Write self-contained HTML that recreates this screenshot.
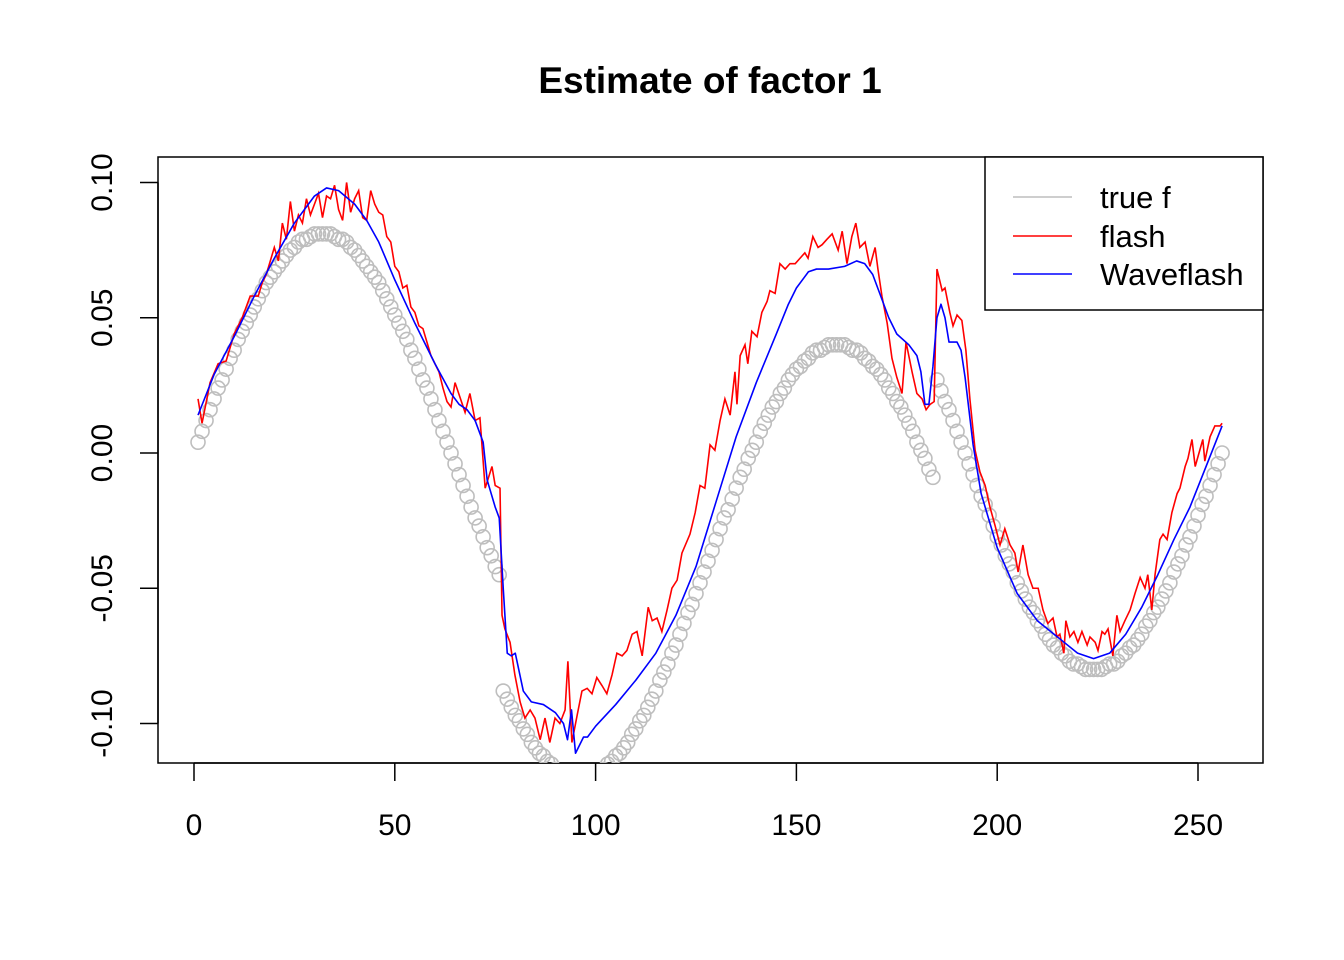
<!DOCTYPE html>
<html><head><meta charset="utf-8"><style>
html,body{margin:0;padding:0;background:#fff;}
svg{display:block;font-family:"Liberation Sans",Arial,sans-serif;}
</style></head><body>
<svg id="chart" width="1344" height="960" viewBox="0 0 1344 960">
<defs><clipPath id="plotclip"><rect x="158" y="157" width="1105" height="606"/></clipPath></defs>
<text x="710" y="93" text-anchor="middle" font-size="37" font-weight="bold">Estimate of factor 1</text>
<rect x="158" y="157" width="1105" height="606" fill="none" stroke="#000" stroke-width="1.5"/>
<g id="xaxis"></g>
<g id="yaxis"></g>
<g id="series" clip-path="url(#plotclip)"></g>
<g>
<rect x="985" y="157" width="278" height="153" fill="#fff" stroke="#000" stroke-width="1.5"/>
<line x1="1013" y1="197" x2="1072" y2="197" stroke="#bebebe" stroke-width="1.5"/>
<text x="1100" y="208" font-size="31">true f</text>
<line x1="1013" y1="236" x2="1072" y2="236" stroke="#ff0000" stroke-width="1.5"/>
<text x="1100" y="247" font-size="31">flash</text>
<line x1="1013" y1="274" x2="1072" y2="274" stroke="#0000ff" stroke-width="1.5"/>
<text x="1100" y="285" font-size="31">Waveflash</text>
</g>
</svg>
<script>
const xTicks=[0,50,100,150,200,250];
const yTicks=[0.10,0.05,0.00,-0.05,-0.10];
const yTickLabels=["0.10","0.05","0.00","-0.05","-0.10"];
const trueF=[.004,.008,.012,.016,.020,.024,.027,.031,.035,.038,.042,.045,.048,.051,.054,.057,.060,.063,.065,.067,.069,.071,.073,.075,.076,.078,.079,.079,.080,.081,.081,.081,
.081,.081,.080,.079,.079,.078,.076,.075,.073,.071,.069,.067,.065,.063,.060,.057,.054,.051,.048,.045,.042,.038,.035,.031,.027,.024,.020,.016,.012,.008,.004,0,
-.004,-.008,-.012,-.016,-.020,-.024,-.027,-.031,-.035,-.038,-.042,-.045,
-.088,-.091,-.094,-.097,-.099,-.102,-.104,-.107,-.109,-.111,-.112,-.114,-.115,-.117,-.118,-.118,-.119,-.120,-.120,-.120,
-.120,-.120,-.119,-.118,-.118,-.117,-.115,-.114,-.112,-.111,-.109,-.107,-.104,-.102,-.099,-.097,-.094,-.091,-.088,
-.084,-.081,-.078,-.074,-.071,-.067,-.063,-.059,-.056,-.052,-.048,-.044,-.040,
-.036,-.032,-.028,-.024,-.021,-.017,-.013,-.009,-.006,-.002,.001,.004,.008,.011,.014,.017,.019,.022,.024,.027,.029,.031,.032,.034,.035,.037,.038,.038,.039,.040,.040,.040,
.040,.040,.039,.038,.038,.037,.035,.034,.032,.031,.029,.027,.024,.022,.019,.017,.014,.011,.008,.004,.001,-.002,-.006,-.009,
.027,.023,.019,.016,.012,.008,.004,0,
-.004,-.008,-.012,-.016,-.019,-.023,-.027,-.031,-.034,-.038,-.041,-.044,-.048,-.051,-.054,-.057,-.059,-.062,-.064,-.067,-.069,-.071,-.072,-.074,-.075,-.077,-.078,-.078,-.079,-.080,-.080,-.080,
-.080,-.080,-.079,-.078,-.078,-.077,-.075,-.074,-.072,-.071,-.069,-.067,-.064,-.062,-.059,-.057,-.054,-.051,-.048,-.044,-.041,-.038,-.034,-.031,-.027,-.023,-.019,-.016,-.012,-.008,-.004,0];
const flashX=[1,2,4,6,8,10,12,14,16,17,18,20,21,22,23,24,25,26,27,28,29,30,31,32,33,34,35,36,37,38,39,40,41,42,43,44,45,46,47,48,49,50,51,52,53,54,55,56,57,58,59,60,61,62,63,64,65,67.5,68.7,70,71.2,72.5,74.2,75,76.2,76.7,77.4,78.7,79.9,81.2,82.4,83.7,84.9,86.2,87.4,88.6,89.9,91.1,92.4,93.1,94.1,95.4,96.6,97.9,99.1,100.3,101.6,102.8,104.1,105.3,106.6,107.8,109.1,110.3,111.6,113.1,114.1,115.3,116.5,117.8,119,120.3,121.5,123.5,124.8,126,127.2,128.5,129.7,131,132.2,133.5,134.7,135.2,136,137.2,137.9,138.9,140.2,141.4,142.7,143.4,144.7,145.9,147.2,148.4,149.7,150.9,152.1,152.9,154.1,155.4,156.4,157.6,158.9,160.4,161.4,162.6,163.8,164.8,165.8,167.1,168.3,169.6,170.3,171.3,172.6,173.8,175,176.3,177.3,178.8,180,181.3,182.3,183.3,184.3,185,186.3,187,188.2,189,190,191.2,192.2,193.2,194.5,195.7,197,198.2,199.5,200.7,201.9,203.2,204.4,205.2,206.4,207.7,208.9,210.2,211.4,212.6,213.9,214.9,215.6,216.6,217.1,218.1,219.1,220.1,221.1,222.4,223.1,224.4,225.1,226.1,226.8,227.6,228.8,229.8,230.6,231.8,233.1,234.3,235.6,236.8,237.5,238.5,239.3,240.5,241.3,242.3,243.5,244.8,245.5,246.8,247.5,248.5,249.3,251.2,251.7,253,254.2,255.5,256];
const flashY=[.020,.011,.026,.033,.034,.044,.050,.058,.058,.063,.066,.076,.071,.085,.079,.093,.082,.088,.085,.094,.088,.092,.096,.087,.095,.094,.099,.090,.086,.100,.089,.094,.097,.087,.086,.097,.092,.089,.088,.080,.078,.069,.067,.061,.062,.054,.052,.047,.046,.041,.036,.033,.030,.024,.019,.017,.026,.015,.022,.012,.013,-.013,-.005,-.012,-.013,-.060,-.065,-.070,-.082,-.092,-.098,-.095,-.098,-.106,-.098,-.107,-.098,-.100,-.095,-.077,-.107,-.097,-.088,-.087,-.089,-.083,-.086,-.089,-.082,-.074,-.075,-.073,-.067,-.066,-.075,-.057,-.062,-.061,-.066,-.058,-.050,-.047,-.037,-.030,-.022,-.012,-.013,.003,.001,.012,.020,.014,.030,.018,.036,.040,.033,.045,.043,.052,.056,.060,.059,.070,.068,.070,.070,.072,.074,.072,.080,.076,.077,.079,.081,.075,.082,.070,.080,.085,.076,.078,.069,.076,.068,.058,.048,.035,.028,.022,.041,.030,.022,.020,.016,.018,.019,.068,.060,.061,.052,.047,.051,.049,.038,.020,.001,-.007,-.012,-.020,-.027,-.034,-.028,-.034,-.037,-.044,-.034,-.045,-.050,-.050,-.058,-.063,-.061,-.068,-.067,-.074,-.062,-.068,-.066,-.070,-.066,-.071,-.068,-.070,-.073,-.066,-.067,-.065,-.075,-.060,-.066,-.062,-.058,-.052,-.046,-.050,-.045,-.058,-.045,-.032,-.030,-.032,-.022,-.015,-.013,-.005,-.002,.005,-.005,.005,-.003,.006,.010,.010,.011];
const waveX=[1,5,10,15,20,25,30,33,36,40,43,46,50,55,60,64,66,68,70,72,73,75,76,77,78,79,80,82,84,87,90,92,93,94,95,97,98,100,105,110,115,120,125,130,135,140,145,148,150,152,153,155,158,162,165,167,169,171,173,175,178,180,181,182,183,184,185,186,187,188,190,191,192,194,196,200,205,210,215,220,224,228,232,236,240,244,248,252,256];
const waveY=[.014,.029,.043,.058,.072,.085,.095,.098,.097,.092,.086,.078,.064,.048,.033,.022,.018,.016,.012,.004,-.010,-.020,-.024,-.050,-.074,-.075,-.074,-.088,-.092,-.093,-.096,-.100,-.106,-.095,-.111,-.105,-.105,-.101,-.093,-.084,-.074,-.060,-.042,-.018,.006,.026,.044,.055,.061,.065,.067,.068,.068,.069,.071,.070,.066,.058,.050,.044,.040,.036,.030,.018,.018,.032,.050,.055,.050,.041,.041,.038,.028,.003,-.015,-.035,-.052,-.062,-.068,-.074,-.076,-.074,-.067,-.057,-.045,-.032,-.020,-.005,.010];

const NS="http://www.w3.org/2000/svg";
function X(v){return 194+(v-0)*4.016;}
function Y(v){return 453-v*2705;}
function mk(tag,attrs,parent){const e=document.createElementNS(NS,tag);for(const k in attrs)e.setAttribute(k,attrs[k]);parent.appendChild(e);return e;}
const xa=document.getElementById('xaxis'),ya=document.getElementById('yaxis'),sg=document.getElementById('series');
mk('line',{x1:X(xTicks[0]),x2:X(xTicks[xTicks.length-1]),y1:763,y2:763,stroke:'#000','stroke-width':1.5},xa);
xTicks.forEach(t=>{
  const l=mk('line',{x1:X(t),x2:X(t),y1:763,y2:781,stroke:'#000','stroke-width':1.5},xa);
  
  
  const tx=mk('text',{x:X(t),y:835,'text-anchor':'middle','font-size':30},xa);
  tx.textContent=t;
  
  
});
mk('line',{x1:158,x2:158,y1:Y(yTicks[0]),y2:Y(yTicks[yTicks.length-1]),stroke:'#000','stroke-width':1.5},ya);
yTicks.forEach((t,i)=>{
  const l=mk('line',{x1:140,x2:158,y1:Y(t),y2:Y(t),stroke:'#000','stroke-width':1.5},ya);
  
  
  const tx=mk('text',{x:0,y:0,'text-anchor':'middle','font-size':30,transform:`translate(112,${Y(t)}) rotate(-90)`},ya);
  tx.textContent=yTickLabels[i];
  
  
});
const cg=mk('g',{},sg);


trueF.forEach((v,i)=>{
  const c=mk('circle',{cx:X(i+1),cy:Y(v),r:7,fill:'none',stroke:'#bebebe','stroke-width':1.6},cg);
  
  
});
const rp=mk('polyline',{points:flashX.map((x,i)=>X(x)+','+Y(flashY[i])).join(' '),fill:'none',stroke:'#ff0000','stroke-width':1.6},sg);


const bp=mk('polyline',{points:waveX.map((x,i)=>X(x)+','+Y(waveY[i])).join(' '),fill:'none',stroke:'#0000ff','stroke-width':1.6,'stroke-linejoin':'round'},sg);


</script>
</body></html>
